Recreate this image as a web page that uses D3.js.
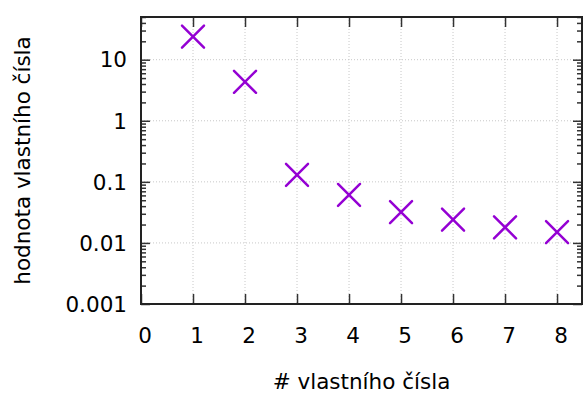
<!DOCTYPE html>
<html>
<head>
<meta charset="utf-8">
<script src="https://cdn.jsdelivr.net/npm/d3@7"></script>
<style>
  html, body { margin: 0; padding: 0; background: #fff; }
  svg { display: block; }
  text { font-family: "DejaVu Sans", Verdana, sans-serif; fill: #000; }
</style>
</head>
<body>
<svg id="chart" width="583" height="394"></svg>
<script>
// Eigenvalue index and magnitude
const indices = [1, 2, 3, 4, 5, 6, 7, 8];
const eigenvalues = [23.8, 4.35, 0.13, 0.061, 0.032, 0.024, 0.018, 0.015];
const xTicks = [0, 1, 2, 3, 4, 5, 6, 7, 8];
const yTicks = [0.001, 0.01, 0.1, 1, 10];
const xTitle = "# vlastního čísla";
const yTitle = "hodnota vlastního čísla";

const svg = d3.select("#chart");
const margin = { left: 141, top: 17, right: 1, bottom: 90 };
const W = 583, H = 394;
const x0 = margin.left, x1 = W - margin.right;
const y0 = margin.top, y1 = H - margin.bottom;

const x = d3.scaleLinear().domain([0, 8.48]).range([x0, x1]);
const y = d3.scaleLog().domain([0.001, 50]).range([y1, y0]);

const color = "#9400d3";
const axisColor = "#222";
const fs = 21.5;

// minor tick values (2..9 per decade)
const minor = [];
for (let e = -3; e <= 1; e++) {
  for (let m = 2; m <= 9; m++) {
    const v = m * Math.pow(10, e);
    if (v <= 50) minor.push(v);
  }
}

// grid
const grid = svg.append("g").attr("stroke", "#c8c8c8").attr("stroke-width", 1).attr("stroke-dasharray", "1,2");
grid.selectAll("line.gx").data(xTicks.filter(d => d > 0)).join("line")
  .attr("x1", d => x(d)).attr("x2", d => x(d)).attr("y1", y0).attr("y2", y1);
grid.selectAll("line.gy").data(yTicks.filter(d => d > 0.001)).join("line")
  .attr("x1", x0).attr("x2", x1).attr("y1", d => y(d)).attr("y2", d => y(d));

// axes via d3 axis generators, ticks drawn inward
const tickColor = "#333";
const leftMajor = svg.append("g").attr("transform", `translate(${x0},0)`)
  .call(d3.axisRight(y).tickValues(yTicks).tickSize(9).tickFormat(""));
const leftMinor = svg.append("g").attr("transform", `translate(${x0},0)`)
  .call(d3.axisRight(y).tickValues(minor).tickSize(5).tickFormat(""));
const rightMajor = svg.append("g").attr("transform", `translate(${x1},0)`)
  .call(d3.axisLeft(y).tickValues(yTicks).tickSize(9).tickFormat(""));
const rightMinor = svg.append("g").attr("transform", `translate(${x1},0)`)
  .call(d3.axisLeft(y).tickValues(minor).tickSize(5).tickFormat(""));
const bottomAx = svg.append("g").attr("transform", `translate(0,${y1})`)
  .call(d3.axisTop(x).tickValues(xTicks).tickSize(10).tickFormat(""));
const topAx = svg.append("g").attr("transform", `translate(0,${y0})`)
  .call(d3.axisBottom(x).tickValues(xTicks).tickSize(10).tickFormat(""));
[leftMajor, leftMinor, rightMajor, rightMinor, bottomAx, topAx].forEach(g => {
  g.select(".domain").remove();
  g.selectAll("line").attr("stroke", tickColor).attr("stroke-width", 1.5);
});

// frame
svg.append("rect").attr("x", x0).attr("y", y0).attr("width", x1 - x0).attr("height", y1 - y0)
  .attr("fill", "none").attr("stroke", axisColor).attr("stroke-width", 2);

// tick labels
svg.append("g").selectAll("text").data(yTicks).join("text")
  .attr("x", x0 - 14).attr("y", d => y(d)).attr("dy", "0.36em")
  .attr("text-anchor", "end").attr("font-size", fs)
  .text(d => d3.format("~g")(d));
svg.append("g").selectAll("text").data(xTicks).join("text")
  .attr("x", d => x(d) + 4).attr("y", y1 + 31).attr("dy", "0.36em")
  .attr("text-anchor", "middle").attr("font-size", fs)
  .text(d => d);

// titles
svg.append("text").attr("x", (x0 + x1) / 2).attr("y", y1 + 77).attr("dy", "0.36em")
  .attr("text-anchor", "middle").attr("font-size", fs).text(xTitle);
svg.append("text").attr("transform", `translate(22,${(y0 + y1) / 2}) rotate(-90)`)
  .attr("dy", "0.36em").attr("text-anchor", "middle").attr("font-size", fs).text(yTitle);

// cross markers
const r = 11;
const pts = svg.append("g").attr("stroke", color).attr("stroke-width", 2.5).attr("stroke-linecap", "round");
indices.forEach((d, i) => {
  const cx = x(d), cy = y(eigenvalues[i]);
  pts.append("path").attr("d", `M${cx - r},${cy - r}L${cx + r},${cy + r}M${cx - r},${cy + r}L${cx + r},${cy - r}`);
});
</script>
</body>
</html>
